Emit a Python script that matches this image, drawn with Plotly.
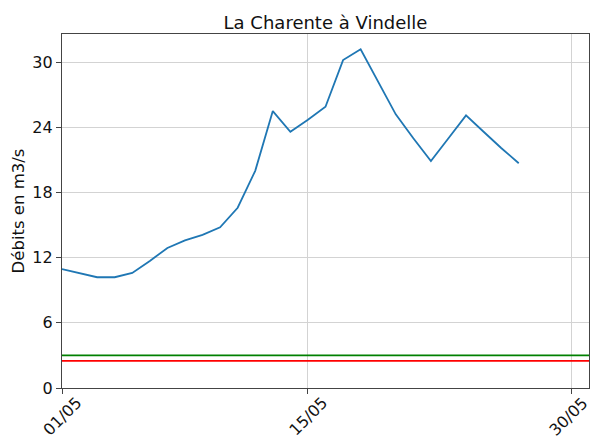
import pandas as pd
import plotly.graph_objects as go

# Débits journaliers (mai)
dates = pd.date_range("2023-05-01", "2023-05-27", freq="D")
debits = [10.95, 10.6, 10.2, 10.2, 10.6, 11.7, 12.9, 13.6, 14.1, 14.8,
          16.6, 20.0, 25.5, 23.6, 24.7, 25.9, 30.2, 31.2, 28.2, 25.2,
          23.0, 20.9, 23.0, 25.1, 23.6, 22.1, 20.7]

seuil_vert = 3.0
seuil_rouge = 2.5

x_ticks = pd.to_datetime(["2023-05-01", "2023-05-15", "2023-05-30"])
x_tick_labels = ["01/05", "15/05", "30/05"]
y_ticks = [0, 6, 12, 18, 24, 30]

fig = go.Figure()
fig.add_trace(go.Scatter(
    x=dates,
    y=debits,
    mode="lines",
    line=dict(color="#1f77b4", width=1.8),
    showlegend=False
))

for val, col in [(seuil_vert, "green"), (seuil_rouge, "red")]:
    fig.add_shape(type="line", xref="paper", x0=0, x1=1, yref="y", y0=val, y1=val,
                  line=dict(color=col, width=1.8))

# étiquettes de dates tournées à 45°, centrées sous les graduations (style matplotlib)
for i, (d, lab) in enumerate(zip(x_ticks, x_tick_labels)):
    fig.add_annotation(x=d, xref="x", y=0, yref="paper", text=lab, showarrow=False,
                       textangle=-45, xanchor="center", yanchor="middle", yshift=-28,
                       xshift=-3 if i == len(x_ticks) - 1 else 0,  # dernier collé au bord
                       font=dict(size=16, color="#111"))

axis_common = dict(
    showline=True, linecolor="#444", linewidth=1.2, mirror=True,
    ticks="outside", ticklen=5, tickcolor="#444",
    showgrid=True, gridcolor="#d3d3d3", gridwidth=1,
    zeroline=False, automargin=False,
    tickfont=dict(size=16, color="#111"),
)

fig.update_xaxes(
    range=[pd.Timestamp("2023-05-01"), pd.Timestamp("2023-05-31")],
    tickvals=x_ticks, showticklabels=False,
    **axis_common
)
fig.update_yaxes(
    range=[0, 32.6], tickvals=y_ticks,
    title=dict(text="Débits en m3/s", font=dict(size=16.5, color="#111"), standoff=3),
    **axis_common
)

fig.update_layout(
    width=590, height=439,
    margin=dict(l=62, r=1, t=34, b=51),
    paper_bgcolor="white", plot_bgcolor="white",
    font=dict(family="DejaVu Sans", color="#111"),
    title=dict(text="La Charente à Vindelle", x=0.5, xref="paper",
               y=1 - 23 / 439, yref="container", yanchor="middle",
               font=dict(size=18, color="#111"), automargin=False),
)

fig.write_html("out.html", config={"displayModeBar": False},
               post_script="document.body.style.margin='0';")
